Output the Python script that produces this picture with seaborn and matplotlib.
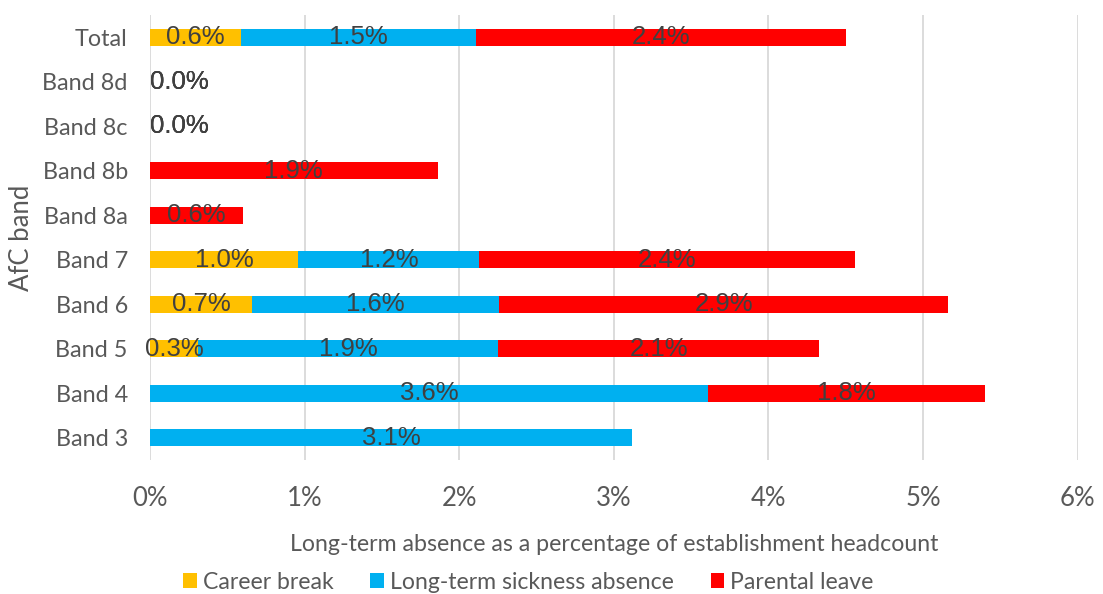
import numpy as np
import pandas as pd
import matplotlib
matplotlib.use("Agg")
import matplotlib.pyplot as plt
from matplotlib.patches import Patch
import seaborn as sns

# data (percent of establishment headcount), NaN = no bar / no label
bands = ["Total", "Band 8d", "Band 8c", "Band 8b", "Band 8a",
         "Band 7", "Band 6", "Band 5", "Band 4", "Band 3"]
career_break = [0.59, 0.0, 0.0, np.nan, np.nan, 0.96, 0.66, 0.31, np.nan, np.nan]
sickness = [1.52, 0.0, 0.0, np.nan, np.nan, 1.17, 1.60, 1.94, 3.61, 3.12]
parental = [2.39, 0.0, 0.0, 1.86, 0.60, 2.43, 2.90, 2.08, 1.79, np.nan]

series_names = ["Career break", "Long-term sickness absence", "Parental leave"]
colors = ["#FFC000", "#00B0F0", "#FF0000"]
xticks = [0, 1, 2, 3, 4, 5, 6]

df = pd.DataFrame({"band": bands, "Career break": career_break,
                   "Long-term sickness absence": sickness,
                   "Parental leave": parental})

sns.set_theme(style="white")
plt.rcParams["font.family"] = ["Lato", "DejaVu Sans"]

fig, ax = plt.subplots(figsize=(11.03, 5.94), dpi=100)
fig.subplots_adjust(left=0.136, right=0.977, top=0.975, bottom=0.2256)

filled = df[series_names].fillna(0)
cum = filled.cumsum(axis=1)

# draw cumulative totals, largest first, so segments stack
for name, color in reversed(list(zip(series_names, colors))):
    plot_df = pd.DataFrame({"band": bands, "value": cum[name]})
    sns.barplot(data=plot_df, x="value", y="band", order=bands, color=color,
                width=0.38, orient="h", ax=ax, linewidth=0, saturation=1,
                errorbar=None)

# segment labels
for i, band in enumerate(bands):
    start = 0.0
    for name in series_names:
        v = df.loc[i, name]
        if pd.isna(v):
            continue
        if v == 0:
            ax.text(0.0, i, f"{v:.1f}%", ha="left", va="center",
                    fontsize=18.5, color="#404040", family="Liberation Sans")
        else:
            ax.text(start + v / 2, i, f"{v:.1f}%", ha="center", va="center",
                    fontsize=18.5, color="#404040", family="Liberation Sans")
        start += v

ax.set_xlim(0, 6)
ax.set_xticks(xticks)
ax.set_xticklabels([f"{t}%" for t in xticks])
ax.xaxis.grid(True, color="#D9D9D9", linewidth=1.3)
ax.set_axisbelow(True)
for s in ax.spines.values():
    s.set_visible(False)
ax.tick_params(axis="x", length=0, pad=19, labelsize=18.5, labelcolor="#595959")
ax.tick_params(axis="y", length=0, pad=16, labelsize=16.8, labelcolor="#595959")

ax.set_xlabel("Long-term absence as a percentage of establishment headcount",
              fontsize=16.7, color="#595959", labelpad=16)
ax.set_ylabel("AfC band", fontsize=18.5, color="#595959")
ax.yaxis.set_label_coords(-0.125, 0.5)

handles = [Patch(facecolor=c, edgecolor="none", label=n)
           for n, c in zip(series_names, colors)]
fig.legend(handles=handles, loc="center", bbox_to_anchor=(0.479, 0.02),
           ncol=3, frameon=False, fontsize=16.6, labelcolor="#595959",
           handlelength=0.6, handleheight=0.6, handletextpad=0.25,
           columnspacing=1.6)

fig.savefig("out.png", dpi=100, facecolor="white")
